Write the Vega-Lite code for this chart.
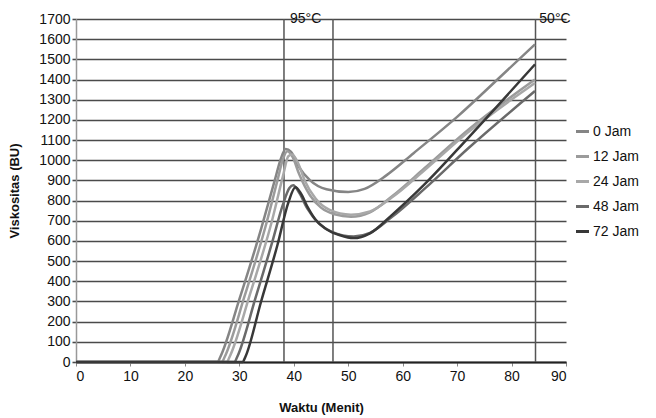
{
  "$schema": "https://vega.github.io/schema/vega-lite/v6.json",
  "width": 490,
  "height": 343,
  "autosize": {"type": "none"},
  "padding": {"left": 76, "top": 19, "right": 90, "bottom": 56},
  "config": {
    "font": "Liberation Sans",
    "view": {"stroke": null},
    "axis": {"labelFont": "Liberation Sans", "titleFont": "Liberation Sans", "labelColor": "#111", "titleColor": "#111"}
  },
  "datasets": {
    "curves": [
      {"s": "0 Jam", "t": 0, "v": 0}, {"s": "0 Jam", "t": 26.0, "v": 0}, {"s": "0 Jam", "t": 26.5, "v": 25}, {"s": "0 Jam", "t": 30, "v": 310}, {"s": "0 Jam", "t": 34, "v": 660}, {"s": "0 Jam", "t": 36.5, "v": 900}, {"s": "0 Jam", "t": 37.6, "v": 1005}, {"s": "0 Jam", "t": 38.5, "v": 1056}, {"s": "0 Jam", "t": 39.5, "v": 1042}, {"s": "0 Jam", "t": 41, "v": 965}, {"s": "0 Jam", "t": 43, "v": 900}, {"s": "0 Jam", "t": 46, "v": 856}, {"s": "0 Jam", "t": 50, "v": 842}, {"s": "0 Jam", "t": 53, "v": 858}, {"s": "0 Jam", "t": 57, "v": 925}, {"s": "0 Jam", "t": 62, "v": 1035}, {"s": "0 Jam", "t": 70, "v": 1215}, {"s": "0 Jam", "t": 78, "v": 1415}, {"s": "0 Jam", "t": 84.3, "v": 1574},
      {"s": "12 Jam", "t": 0, "v": 0}, {"s": "12 Jam", "t": 26.8, "v": 0}, {"s": "12 Jam", "t": 27.3, "v": 25}, {"s": "12 Jam", "t": 31, "v": 330}, {"s": "12 Jam", "t": 35, "v": 690}, {"s": "12 Jam", "t": 37, "v": 900}, {"s": "12 Jam", "t": 38, "v": 1005}, {"s": "12 Jam", "t": 38.8, "v": 1045}, {"s": "12 Jam", "t": 39.8, "v": 1015}, {"s": "12 Jam", "t": 41, "v": 930}, {"s": "12 Jam", "t": 43, "v": 825}, {"s": "12 Jam", "t": 45, "v": 765}, {"s": "12 Jam", "t": 47.5, "v": 732}, {"s": "12 Jam", "t": 50.5, "v": 720}, {"s": "12 Jam", "t": 54, "v": 742}, {"s": "12 Jam", "t": 58, "v": 820}, {"s": "12 Jam", "t": 64, "v": 960}, {"s": "12 Jam", "t": 72, "v": 1150}, {"s": "12 Jam", "t": 84.3, "v": 1400},
      {"s": "24 Jam", "t": 0, "v": 0}, {"s": "24 Jam", "t": 27.7, "v": 0}, {"s": "24 Jam", "t": 28.2, "v": 25}, {"s": "24 Jam", "t": 32, "v": 340}, {"s": "24 Jam", "t": 36, "v": 700}, {"s": "24 Jam", "t": 38, "v": 920}, {"s": "24 Jam", "t": 39, "v": 1020}, {"s": "24 Jam", "t": 39.7, "v": 1028}, {"s": "24 Jam", "t": 40.8, "v": 985}, {"s": "24 Jam", "t": 42, "v": 900}, {"s": "24 Jam", "t": 44, "v": 810}, {"s": "24 Jam", "t": 46.5, "v": 755}, {"s": "24 Jam", "t": 50.5, "v": 730}, {"s": "24 Jam", "t": 54, "v": 746}, {"s": "24 Jam", "t": 58, "v": 815}, {"s": "24 Jam", "t": 64, "v": 950}, {"s": "24 Jam", "t": 72, "v": 1138}, {"s": "24 Jam", "t": 84.3, "v": 1383},
      {"s": "48 Jam", "t": 0, "v": 0}, {"s": "48 Jam", "t": 29.1, "v": 0}, {"s": "48 Jam", "t": 29.6, "v": 25}, {"s": "48 Jam", "t": 33, "v": 320}, {"s": "48 Jam", "t": 36, "v": 590}, {"s": "48 Jam", "t": 38, "v": 780}, {"s": "48 Jam", "t": 39.2, "v": 862}, {"s": "48 Jam", "t": 39.9, "v": 876}, {"s": "48 Jam", "t": 41, "v": 838}, {"s": "48 Jam", "t": 42.5, "v": 760}, {"s": "48 Jam", "t": 44.5, "v": 690}, {"s": "48 Jam", "t": 47, "v": 645}, {"s": "48 Jam", "t": 51, "v": 622}, {"s": "48 Jam", "t": 54, "v": 640}, {"s": "48 Jam", "t": 58, "v": 718}, {"s": "48 Jam", "t": 64, "v": 858}, {"s": "48 Jam", "t": 72, "v": 1058}, {"s": "48 Jam", "t": 84.3, "v": 1343},
      {"s": "72 Jam", "t": 0, "v": 0}, {"s": "72 Jam", "t": 30.6, "v": 0}, {"s": "72 Jam", "t": 31.1, "v": 25}, {"s": "72 Jam", "t": 34, "v": 300}, {"s": "72 Jam", "t": 37, "v": 580}, {"s": "72 Jam", "t": 39, "v": 790}, {"s": "72 Jam", "t": 40.3, "v": 866}, {"s": "72 Jam", "t": 41.3, "v": 835}, {"s": "72 Jam", "t": 42.6, "v": 765}, {"s": "72 Jam", "t": 44, "v": 705}, {"s": "72 Jam", "t": 46, "v": 658}, {"s": "72 Jam", "t": 48.5, "v": 628}, {"s": "72 Jam", "t": 51, "v": 614}, {"s": "72 Jam", "t": 54, "v": 638}, {"s": "72 Jam", "t": 58, "v": 728}, {"s": "72 Jam", "t": 64, "v": 880}, {"s": "72 Jam", "t": 72, "v": 1110}, {"s": "72 Jam", "t": 84.3, "v": 1475}
    ],
    "rules": [{"t": 38.2}, {"t": 47.2}, {"t": 84.4}],
    "labels": [{"t": 39.3, "v": 1700, "label": "95°C"}, {"t": 85.1, "v": 1700, "label": "50°C"}]
  },
  "layer": [
    {
      "data": {"name": "rules"},
      "mark": {"type": "rule", "color": "#555555", "strokeWidth": 1.5},
      "encoding": {
        "x": {
          "field": "t", "type": "quantitative",
          "scale": {"domain": [0, 90], "nice": false},
          "axis": {
            "title": "Waktu (Menit)", "titleFontSize": 13, "titleFontWeight": "bold", "titlePadding": 18,
            "values": [0, 10, 20, 30, 40, 50, 60, 70, 80, 90], "format": "d", "labelOverlap": false,
            "labelFontSize": 14, "labelPadding": 3,
            "grid": false, "domainColor": "#222222", "domainWidth": 2,
            "tickColor": "#888888", "tickSize": 4
          }
        }
      }
    },
    {
      "data": {"name": "curves"},
      "mark": {"type": "line", "interpolate": "monotone", "strokeWidth": 2.5},
      "encoding": {
        "x": {
          "field": "t", "type": "quantitative",
          "scale": {"domain": [0, 90], "nice": false},
          "axis": {
            "title": "Waktu (Menit)", "titleFontSize": 13, "titleFontWeight": "bold", "titlePadding": 18,
            "values": [0, 10, 20, 30, 40, 50, 60, 70, 80, 90], "format": "d", "labelOverlap": false,
            "labelFontSize": 14, "labelPadding": 3,
            "grid": false, "domainColor": "#222222", "domainWidth": 2,
            "tickColor": "#888888", "tickSize": 4
          }
        },
        "y": {
          "field": "v", "type": "quantitative",
          "scale": {"domain": [0, 1700], "nice": false},
          "axis": {
            "title": "Viskositas (BU)", "titleFontSize": 13, "titleFontWeight": "bold", "titlePadding": 17,
            "values": [0, 100, 200, 300, 400, 500, 600, 700, 800, 900, 1000, 1100, 1200, 1300, 1400, 1500, 1600, 1700],
            "format": "d", "labelOverlap": false,
            "labelFontSize": 14, "labelPadding": 2,
            "grid": true, "gridColor": "#4a4a4a", "gridWidth": 1.6,
            "domainColor": "#999999", "domainWidth": 1.5,
            "tickColor": "#4a4a4a", "tickSize": 4, "tickWidth": 1.6
          }
        },
        "color": {
          "field": "s", "type": "nominal",
          "scale": {
            "domain": ["0 Jam", "12 Jam", "24 Jam", "48 Jam", "72 Jam"],
            "range": ["#858585", "#9b9b9b", "#a8a8a8", "#6a6a6a", "#383838"]
          },
          "legend": {
            "title": null, "orient": "none", "legendX": 498, "legendY": 104,
            "symbolType": "stroke", "symbolSize": 170, "symbolStrokeWidth": 3,
            "labelFontSize": 14, "labelColor": "#111", "rowPadding": 9, "labelOffset": 2,
            "labelExpr": "datum.label == '0 Jam' ? '\u2007 0 Jam' : datum.label"
          }
        }
      }
    },
    {
      "data": {"name": "labels"},
      "mark": {"type": "text", "align": "left", "baseline": "middle", "fontSize": 14, "color": "#111"},
      "encoding": {
        "x": {
          "field": "t", "type": "quantitative",
          "scale": {"domain": [0, 90], "nice": false},
          "axis": {
            "title": "Waktu (Menit)", "titleFontSize": 13, "titleFontWeight": "bold", "titlePadding": 18,
            "values": [0, 10, 20, 30, 40, 50, 60, 70, 80, 90], "format": "d", "labelOverlap": false,
            "labelFontSize": 14, "labelPadding": 3,
            "grid": false, "domainColor": "#222222", "domainWidth": 2,
            "tickColor": "#888888", "tickSize": 4
          }
        },
        "y": {
          "field": "v", "type": "quantitative",
          "scale": {"domain": [0, 1700], "nice": false},
          "axis": {
            "title": "Viskositas (BU)", "titleFontSize": 13, "titleFontWeight": "bold", "titlePadding": 17,
            "values": [0, 100, 200, 300, 400, 500, 600, 700, 800, 900, 1000, 1100, 1200, 1300, 1400, 1500, 1600, 1700],
            "format": "d", "labelOverlap": false,
            "labelFontSize": 14, "labelPadding": 2,
            "grid": true, "gridColor": "#4a4a4a", "gridWidth": 1.6,
            "domainColor": "#999999", "domainWidth": 1.5,
            "tickColor": "#4a4a4a", "tickSize": 4, "tickWidth": 1.6
          }
        },
        "text": {"field": "label"}
      }
    }
  ]
}
